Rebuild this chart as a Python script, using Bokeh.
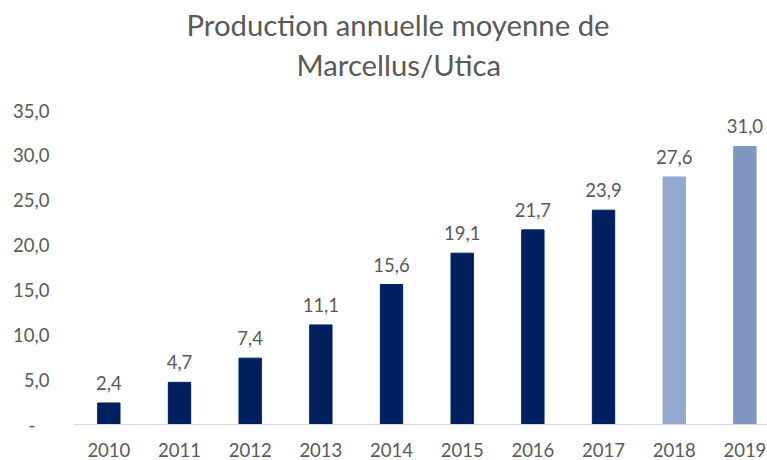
from bokeh.plotting import figure
from bokeh.models import ColumnDataSource, FixedTicker, Range1d, Title
from bokeh.core.properties import value
from bokeh.embed import file_html
from bokeh.resources import INLINE

years = ["2010", "2011", "2012", "2013", "2014", "2015", "2016", "2017", "2018", "2019"]
production = [2.4, 4.7, 7.4, 11.1, 15.6, 19.1, 21.7, 23.9, 27.6, 31.0]
bar_colors = ["#002060"] * 8 + ["#94AACE", "#7F97C2"]
y_ticks = [0, 5, 10, 15, 20, 25, 30, 35]
title_lines = ["Production annuelle moyenne de", "Marcellus/Utica"]

FONT = "Lato"
GREY = "#595959"

xs = list(range(len(years)))
src = ColumnDataSource(dict(
    x=xs, y=production, color=bar_colors,
    label=[f"{v:.1f}".replace(".", ",") for v in production],
))

p = figure(width=767, height=460, output_backend="svg", toolbar_location=None,
           x_range=Range1d(-0.5, 9.32), y_range=Range1d(0, 38.02),
           min_border_left=73, min_border_right=0, min_border_top=83, min_border_bottom=36)
p.outline_line_color = None
p.xgrid.visible = False
p.ygrid.visible = False

p.vbar(x="x", top="y", width=0.316, color="color", source=src)
p.text(x="x", y="y", text="label", source=src, text_align="center", text_baseline="middle",
       y_offset=-20, text_font=value(FONT), text_font_size="18.5px", text_color=GREY)

# x axis
p.xaxis.ticker = FixedTicker(ticks=xs)
p.xaxis.major_label_overrides = {i: y for i, y in enumerate(years)}
p.xaxis.axis_line_color = "#D9D9D9"
p.xaxis.axis_line_width = 1
p.xaxis.major_tick_line_color = None
p.xaxis.minor_tick_line_color = None
p.xaxis.major_tick_out = 0
p.xaxis.major_label_standoff = 18
p.xaxis.major_label_text_font = FONT
p.xaxis.major_label_text_font_size = "18.5px"
p.xaxis.major_label_text_color = GREY

# y axis
p.yaxis.ticker = FixedTicker(ticks=y_ticks)
p.yaxis.major_label_overrides = {t: ("-\u00a0\u00a0\u00a0" if t == 0 else f"{t:.1f}".replace(".", ",")) for t in y_ticks}
p.yaxis.axis_line_color = None
p.yaxis.major_tick_line_color = None
p.yaxis.minor_tick_line_color = None
p.yaxis.major_tick_out = 0
p.yaxis.major_label_standoff = 24
p.yaxis.major_label_text_font = FONT
p.yaxis.major_label_text_font_size = "18.5px"
p.yaxis.major_label_text_color = GREY

# title: two lines, the one nearest the frame is added first
offsets = [113, 223]
for line, off in reversed(list(zip(title_lines, offsets))):
    p.add_layout(Title(text=line, align="left", offset=off, standoff=3,
                       text_font=FONT, text_font_size="29.3px", text_font_style="normal",
                       text_color=GREY), "above")

open("out.html", "w").write(file_html(p, INLINE))
